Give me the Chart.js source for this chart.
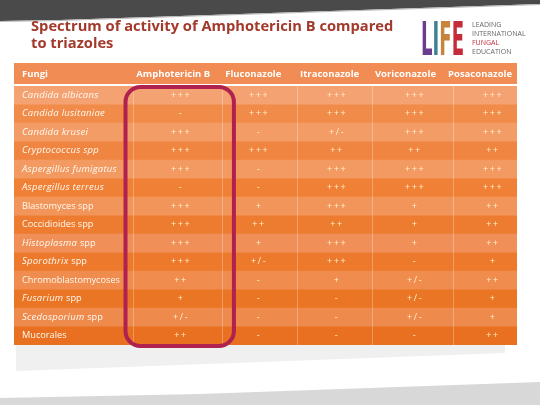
<!DOCTYPE html>
<html><head><meta charset="utf-8">
<script src="https://cdn.jsdelivr.net/npm/chart.js@4"></script>
<style>html,body{margin:0;padding:0;background:#fff}#wrap{width:540px;height:405px}</style>
</head><body><div id="wrap"><canvas id="c" width="540" height="405"></canvas></div>
<script>
// ---- data ----
const titleLines = ['Spectrum of activity of Amphotericin B compared', 'to triazoles'];
const firstHeader = 'Fungi';
const drugs = ['Amphotericin B', 'Fluconazole', 'Itraconazole', 'Voriconazole', 'Posaconazole'];
const fungi = ['Candida albicans','Candida lusitaniae','Candida krusei','Cryptococcus spp','Aspergillus fumigatus','Aspergillus terreus','Blastomyces spp','Coccidioides spp','Histoplasma spp','Sporothrix spp','Chromoblastomycoses','Fusarium spp','Scedosporium spp','Mucorales'];
const italicWords = [2,2,2,2,2,2,0,0,1,1,0,1,1,0];
const amphotericinB = ['+++','-','+++','+++','+++','-','+++','+++','+++','+++','++','+','+/-','++'];
const fluconazole   = ['+++','+++','-','+++','-','-','+','++','+','+/-','-','-','-','-'];
const itraconazole  = ['+++','+++','+/-','++','+++','+++','+++','++','+++','+++','+','-','-','-'];
const voriconazole  = ['+++','+++','+++','++','+++','+++','+','+','+','-','+/-','+/-','+/-','-'];
const posaconazole  = ['+++','+++','+++','++','+++','+++','++','++','++','+','++','+','+','++'];
const columns = [amphotericinB, fluconazole, itraconazole, voriconazole, posaconazole];
const highlightedDrug = 'Amphotericin B';

// ---- styles ----
const X_MIN = -1.13, X_MAX = 5.32;
const rowColors = ['#f5a272','#f08b4a','#f49c66','#ef8540','#f29a62','#ef8036','#f2955a','#ee7c30','#f09058','#ed7a2c','#ef8c4e','#ea7524','#ee8a4c','#e87020'];
const sepValues = [0.4, 1.54, 2.5, 3.46, 4.5];
const FONT = '"Open Sans", "DejaVu Sans", sans-serif';

const bgPlugin = {
  id: 'bg',
  beforeDraw(chart) {
    const c = chart.ctx, a = chart.chartArea;
    c.save();
    c.fillStyle = '#ffffff'; c.fillRect(0, 0, chart.width, chart.height);
    c.fillStyle = '#4a4a4a';
    c.beginPath(); c.moveTo(0,0); c.lineTo(540,0); c.lineTo(540,4); c.lineTo(60,20); c.lineTo(0,21); c.closePath(); c.fill();
    c.strokeStyle = '#b8b8b8'; c.lineWidth = 1;
    c.beginPath(); c.moveTo(0,21.5); c.lineTo(60,20.5); c.lineTo(540,4.5); c.stroke();
    c.fillStyle = '#f0f0f0';
    c.beginPath(); c.moveTo(a.left+2, a.bottom); c.lineTo(a.right-12, a.bottom); c.lineTo(a.right-12, a.bottom+8); c.lineTo(a.left+2, a.bottom+26); c.closePath(); c.fill();
    c.fillStyle = '#d8d8d8';
    c.beginPath(); c.moveTo(0,398); c.lineTo(200,394); c.lineTo(540,382); c.lineTo(540,405); c.lineTo(0,405); c.closePath(); c.fill();
    c.fillStyle = '#f08c54';
    c.fillRect(a.left, 63, a.right - a.left, 21);
    c.restore();
  }
};

const textPlugin = {
  id: 'texts',
  afterDatasetsDraw(chart) {
    const c = chart.ctx, a = chart.chartArea, xs = chart.scales.x, ys = chart.scales.y;
    c.save();
    c.strokeStyle = 'rgba(255,255,255,0.28)'; c.lineWidth = 1;
    sepValues.forEach(v => { const px = Math.round(xs.getPixelForValue(v)) + 0.5; c.beginPath(); c.moveTo(px, a.top); c.lineTo(px, a.bottom); c.stroke(); });
    // header
    c.fillStyle = '#ffffff'; c.textBaseline = 'middle';
    c.font = 'bold 9.5px ' + FONT;
    c.letterSpacing = '0px';
    c.textAlign = 'left'; c.fillText(firstHeader, a.left + 8, 74);
    drugs.forEach((d, i) => c.fillText(d, xs.getPixelForValue(sepValues[i]) + (i === 4 ? -5 : 3), 74));
    // fungi names
    fungi.forEach((name, r) => {
      const y = ys.getPixelForValue(r);
      const words = name.split(' ');
      const it = words.slice(0, italicWords[r]).join(' ');
      const rest = words.slice(italicWords[r]).join(' ');
      let x = a.left + 8;
      c.textAlign = 'left'; c.fillStyle = '#fffaf2';
      if (it) { c.font = 'italic 9.5px ' + FONT; c.letterSpacing = '0.25px'; c.fillText(it, x, y); x += c.measureText(it + ' ').width; }
      if (rest) { c.font = '9.2px ' + FONT; c.letterSpacing = '0px'; c.fillText(rest, x, y); }
    });
    // cells
    c.font = '9px ' + FONT; c.textAlign = 'center'; c.fillStyle = '#fff2cc'; c.letterSpacing = '1.6px';
    columns.forEach((col, i) => col.forEach((v, r) => c.fillText(v, xs.getPixelForValue(i + 1) + 1, ys.getPixelForValue(r))));
    c.letterSpacing = '0px';
    // highlight box
    const hi = drugs.indexOf(highlightedDrug) + 1;
    const x0 = xs.getPixelForValue(hi - 0.7), x1 = xs.getPixelForValue(hi + 0.69);
    const y0 = a.top + 1, y1 = a.bottom + 1;
    c.strokeStyle = '#b0214f'; c.lineWidth = 4;
    c.beginPath(); c.roundRect(x0, y0, x1 - x0, y1 - y0, 15); c.stroke();
    // title
    c.fillStyle = '#a3392b'; c.textAlign = 'left'; c.textBaseline = 'alphabetic';
    c.font = 'bold 14.7px ' + FONT;
    c.fillText(titleLines[0], 31, 31);
    c.fillText(titleLines[1], 31, 48);
    // logo
    const letters = [['L','#6b3d8c'],['I','#3f7f92'],['F','#c9843c'],['E','#c62b3b']];
    c.font = 'bold 46px "DejaVu Sans Condensed", "DejaVu Sans", sans-serif';
    let lw = 0; letters.forEach(l => lw += c.measureText(l[0]).width);
    c.save(); c.translate(421, 55); c.scale(43 / lw, 1);
    let lx = 0;
    letters.forEach(l => { c.fillStyle = l[1]; c.fillText(l[0], lx, 0); lx += c.measureText(l[0]).width; });
    c.restore();
    c.font = '7px ' + FONT;
    [['LEADING','#666',27],['INTERNATIONAL','#666',36],['FUNGAL','#c62b3b',45],['EDUCATION','#666',54]].forEach(t => { c.fillStyle = t[1]; c.fillText(t[0], 472, t[2]); });
    c.restore();
  }
};

new Chart(document.getElementById('c'), {
  type: 'bar',
  data: { labels: fungi, datasets: [{ data: fungi.map(() => [X_MIN, X_MAX]), backgroundColor: rowColors, borderWidth: 0, barPercentage: 1, categoryPercentage: 1 }] },
  options: {
    responsive: false, animation: false, indexAxis: 'y', devicePixelRatio: 1,
    layout: { padding: { left: 14, right: 23, top: 86, bottom: 60 } },
    plugins: { legend: { display: false }, tooltip: { enabled: false }, title: { display: false } },
    scales: { x: { type: 'linear', min: X_MIN, max: X_MAX, display: false }, y: { display: false } }
  },
  plugins: [bgPlugin, textPlugin]
});
</script></body></html>
